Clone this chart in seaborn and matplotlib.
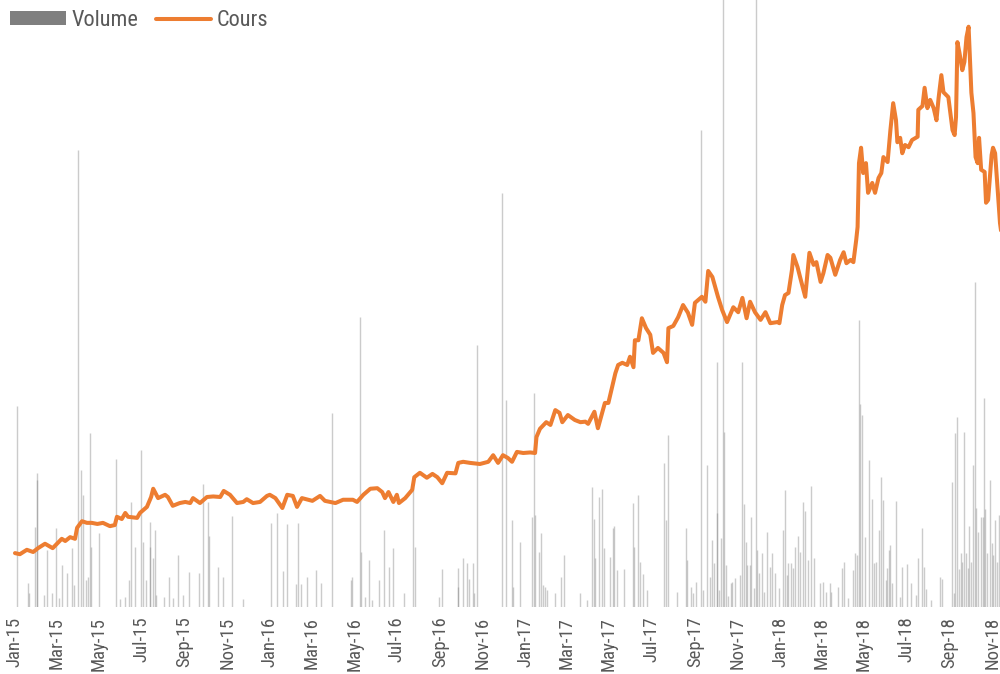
import matplotlib
matplotlib.use("Agg")
import matplotlib.pyplot as plt
import matplotlib.font_manager as fm
from matplotlib.patches import Patch
from matplotlib.lines import Line2D
import seaborn as sns
import pandas as pd

# ---- data -------------------------------------------------------------
START = pd.Timestamp("2015-01-01")

# closing price (EUR), sampled at day offsets from START
price_day = [0, 7, 17, 26, 33, 43, 54, 67, 72, 79, 86, 89, 96, 103, 110, 118, 126, 136, 143, 146,
             153, 158, 162, 175, 179, 189, 195, 198, 205, 215, 219, 226, 236, 244, 251, 255, 265,
             275, 284, 294, 299, 308, 318, 327, 332, 341, 351, 361,
             365, 373, 383, 390, 398, 404, 411, 426, 437, 444, 459, 470, 484, 490, 499, 509, 519,
             526, 530, 535, 542, 547, 550, 559, 569, 572, 580, 590, 598, 605, 612, 619, 631, 635,
             642, 652, 666, 678, 685, 692, 699, 706, 712, 719, 728, 738, 745, 747, 752, 761, 767,
             774, 780, 784, 792, 802, 810, 817, 821, 830, 835, 845, 850, 855, 860, 864, 870, 877,
             881, 886, 888, 893, 898, 904, 910, 914, 921, 929, 934, 936, 943, 950, 957, 964, 970,
             974, 984, 989, 993, 999, 1003, 1007, 1013, 1020, 1029, 1036, 1042, 1048, 1053, 1060,
             1068, 1075, 1082, 1092, 1095, 1099, 1103, 1108, 1113, 1115, 1121, 1125, 1132, 1138,
             1144, 1148, 1154, 1158, 1164, 1168, 1175, 1182, 1187, 1191, 1197, 1201, 1205, 1207,
             1209, 1212, 1215, 1219, 1222, 1228, 1232, 1237, 1241, 1244, 1250, 1254, 1258, 1262,
             1264, 1268, 1271, 1275, 1280, 1285, 1293, 1294, 1300, 1303, 1307, 1311, 1316, 1320,
             1323, 1327, 1330, 1337, 1343, 1346, 1348, 1350, 1353, 1357, 1360, 1363, 1366, 1370,
             1373, 1376, 1379, 1381, 1384, 1389, 1391, 1394, 1399, 1401, 1404, 1407, 1411, 1414]
price = [9.8, 9.6, 10.4, 10.0, 10.7, 11.5, 10.7, 12.4, 12.0, 12.7, 12.4, 14.4, 15.6, 15.3, 15.3, 15.1,
         15.3, 14.7, 14.9, 16.4, 16.0, 17.1, 16.4, 16.2, 17.1, 18.2, 20.0, 21.5, 19.8, 20.4, 20.0,
         18.4, 18.9, 19.1, 18.9, 19.8, 18.9, 20.0, 20.1, 20.0, 21.1, 20.4, 18.9, 19.1, 19.6, 18.9,
         19.1, 20.2,
         20.4, 19.8, 18.0, 20.4, 20.2, 18.2, 19.8, 19.3, 20.2, 19.3, 18.9, 19.5, 19.5, 19.1, 20.4,
         21.5, 21.6, 20.9, 19.8, 20.9, 19.1, 20.4, 18.9, 19.8, 21.3, 23.6, 24.4, 23.5, 24.2, 23.6,
         22.5, 24.4, 24.3, 26.2, 26.4, 26.2, 26.0, 26.4, 27.6, 26.2, 27.6, 27.1, 26.4, 28.2, 28.0,
         28.1, 28.0, 30.9, 32.4, 33.6, 33.1, 35.8, 35.3, 33.6, 34.9, 34.0, 33.6, 33.7, 33.3, 35.5,
         32.5, 37.1, 37.1, 39.8, 42.5, 44.0, 44.4, 44.0, 45.5, 43.6, 48.5, 48.5, 52.5, 50.7, 49.5,
         46.2, 47.1, 46.2, 44.5, 50.7, 51.1, 52.7, 54.9, 53.5, 51.3, 55.3, 56.4, 55.5, 61.1, 60.0,
         58.2, 56.4, 54.0, 51.8, 54.5, 53.6, 56.2, 52.5, 55.5, 53.6, 52.2, 53.6, 51.6, 51.8, 51.6,
         54.9, 56.7, 57.1, 61.3, 64.0, 61.8, 59.8, 56.4, 64.4, 62.2, 62.7, 59.1, 60.7, 64.0, 63.5,
         60.4, 63.1, 64.5, 62.5, 63.1, 62.7, 66.7, 69.1, 80.7, 83.5, 78.9, 80.7, 75.3, 77.1, 75.3,
         78.0, 78.9, 81.8, 80.9, 86.7, 91.6, 88.5, 84.5, 85.3, 82.5, 84.0, 83.6, 84.9, 85.5, 90.4,
         91.1, 94.4, 90.7, 92.2, 90.7, 88.5, 92.5, 96.7, 93.6, 92.7, 86.7, 85.8, 89.1, 102.7, 100.7,
         97.6, 99.1, 103.6, 105.5, 93.5, 89.8, 81.8, 80.7, 85.3, 79.5, 79.1, 73.5, 74.0, 82.2, 83.5,
         82.5, 77.1, 69.8, 67.0]

# traded volume (thousands of shares), day offsets from START
vol_day = [3, 18, 20, 28, 31, 32, 42, 46, 53, 59, 63, 67, 74, 81, 84, 90, 95, 97, 102, 104, 108, 109,
           121, 144, 150, 157, 164, 166, 172, 181, 184, 187, 193, 194, 198, 200, 202, 214, 221, 227,
           233, 241, 249, 264, 269, 277, 278, 291, 298, 311, 326, 367, 376, 384, 389, 403, 405, 409,
           419, 431, 438, 454,
           481, 483, 494, 496, 502, 507, 511, 521, 528, 536, 542, 557, 570, 573, 607, 612, 634, 635,
           642, 648, 650, 656, 657, 662, 697, 703, 712, 713, 724, 740, 744, 745, 751, 753, 757, 759,
           762, 774, 782, 787, 809, 820, 827, 829, 831, 837, 841, 844, 853, 857, 858, 863, 872, 886,
           887, 892, 895, 899, 905, 929, 932, 935,
           948, 961, 962, 968, 971, 975, 982, 985, 991, 995, 998, 1001, 1005, 1006, 1009, 1012, 1014,
           1016, 1018, 1021, 1025, 1027, 1031, 1039, 1041, 1044, 1047, 1049, 1053, 1054, 1058, 1061,
           1063, 1066, 1070, 1073, 1077, 1081, 1084, 1089, 1095, 1100, 1103, 1106, 1108, 1111, 1114,
           1117, 1121, 1124, 1129, 1132, 1136, 1140, 1144, 1153, 1157, 1162, 1167, 1169, 1179, 1185,
           1188, 1193, 1200, 1203, 1206, 1209, 1211, 1214, 1218, 1223, 1227, 1230, 1234, 1237, 1240,
           1243, 1247, 1249, 1252, 1254, 1257, 1262, 1268, 1271, 1278, 1283, 1290, 1293, 1299, 1302,
           1305, 1312, 1325, 1328, 1342, 1345, 1347, 1349, 1352, 1355, 1357, 1360, 1363, 1365, 1367,
           1370, 1373, 1375, 1377, 1380, 1384, 1386, 1388, 1390, 1393, 1396, 1399, 1401, 1404, 1407,
           1410]
vol_k = [201, 24, 14, 80, 134, 127, 12, 57, 14, 79, 9, 42, 34, 59, 22, 457, 137, 112, 27, 30, 174, 60,
         74, 148, 8, 10, 27, 105, 60, 157, 65, 27, 60, 85, 49, 77, 12, 10, 30, 9,
         52, 12, 35, 34, 123, 105, 71, 40, 30, 91, 8, 84, 94, 36, 83, 23, 84, 23,
         30, 37, 24, 194,
         27, 30, 290, 55, 10, 47, 7, 27, 77, 40, 59, 14, 120, 60, 10, 38, 39, 20,
         49, 44, 28, 44, 14, 262, 414, 207, 87, 20, 65, 90, 214, 92, 55, 74, 22, 20,
         17, 14, 30, 52, 14, 7, 120, 88, 49, 110, 118, 59, 50, 79, 81, 37, 38, 104,
         60, 112, 45, 33, 17, 144, 87, 172,
         15, 79, 47, 20, 14, 25, 477, 17, 142, 30, 67, 44, 245, 94, 17, 69, 700,
         175, 42, 11, 24, 25, 29, 32, 245, 103, 65, 42, 42, 90, 19, 700,
         57, 34, 54, 15, 75, 40, 54, 34, 19, 77, 117, 32, 44, 44, 39,
         60, 71, 55, 105, 96, 47, 121, 49, 24, 25, 15, 24, 15, 20, 39,
         45, 9, 37, 54, 52, 287, 203, 192, 70, 147, 108, 44, 45, 77, 130,
         107, 27, 39, 57, 62, 24, 106, 10, 40, 43, 24, 12, 49, 79, 40,
         18, 7, 30, 28, 125, 14, 174, 190, 38, 54, 45, 175, 54, 39, 81,
         45, 142, 325, 99, 75, 90, 90, 209, 98, 54, 127, 64, 52, 87, 45,
         92]

# x-axis labels, one every two months
tick_labels = ["Jan-15", "Mar-15", "May-15", "Jul-15", "Sep-15", "Nov-15",
               "Jan-16", "Mar-16", "May-16", "Jul-16", "Sep-16", "Nov-16",
               "Jan-17", "Mar-17", "May-17", "Jul-17", "Sep-17", "Nov-17",
               "Jan-18", "Mar-18", "May-18", "Jul-18", "Sep-18", "Nov-18"]

# ---- styling ----------------------------------------------------------
sns.set_theme(style="white")

available = {f.name for f in fm.fontManager.ttflist}
narrow = [n for n in ("Liberation Sans Narrow", "Roboto Condensed", "Open Sans Condensed")
          if n in available]
family = narrow[:1] + ["DejaVu Sans"]
plt.rcParams["font.family"] = family
if not narrow:
    plt.rcParams["font.stretch"] = "condensed"

TEXT = "#595959"
ORANGE = "#ED7D31"
GREY = "#7f7f7f"

price_dates = START + pd.to_timedelta(price_day, unit="D")
vol_dates = START + pd.to_timedelta(vol_day, unit="D")
tick_dates = pd.date_range("2015-01-01", periods=len(tick_labels), freq="2MS")

fig = plt.figure(figsize=(10, 6.74), dpi=100)
ax = fig.add_axes([0.0101, 0.0994, 0.9899, 0.9006])

# volume bars behind the price line
ax.vlines(vol_dates, 0, vol_k, color=GREY, alpha=0.4, linewidth=1.0)
ax.set_ylim(0, 607)
ax.set_xlim(START - pd.Timedelta(days=7), START + pd.Timedelta(days=1411))

ax2 = ax.twinx()
sns.lineplot(x=price_dates, y=price, ax=ax2, color=ORANGE, linewidth=2.9,
             solid_joinstyle="round", solid_capstyle="round")
ax2.set_ylim(0, 110.36)
ax2.set_xlim(ax.get_xlim())

for a in (ax, ax2):
    for s in a.spines.values():
        s.set_visible(False)
    a.set_yticks([])
    a.set_ylabel("")
    a.set_xlabel("")

ax.set_xticks(tick_dates)
ax.set_xticklabels(tick_labels, rotation=90, ha="center", va="top")
ax.tick_params(axis="x", length=0, pad=7, labelsize=13.5, labelcolor=TEXT)

handles = [Patch(facecolor=GREY, edgecolor="none"),
           Line2D([0], [0], color=ORANGE, linewidth=2.9)]
fig.legend(handles, ["Volume", "Cours"], loc="upper left", bbox_to_anchor=(0.01, 0.985),
           ncol=2, frameon=False, fontsize=16, labelcolor=TEXT, handlelength=2.5,
           handleheight=0.6, handletextpad=0.25, columnspacing=0.8, borderpad=0,
           borderaxespad=0)

fig.savefig("out.png", dpi=100)
